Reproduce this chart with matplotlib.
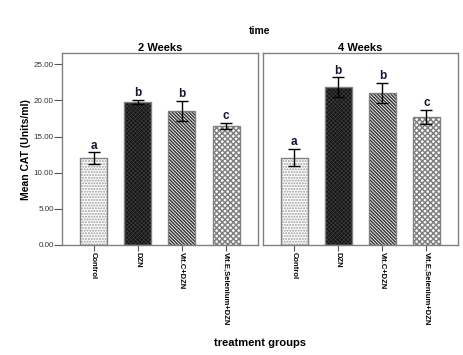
import matplotlib
matplotlib.use("Agg")
import matplotlib.pyplot as plt

plt.rcParams["font.family"] = ["Liberation Sans", "DejaVu Sans"]

groups = ["Control", "DZN", "Vit.C+DZN", "Vit.E,Selenium+DZN"]
panel_titles = ["2 Weeks", "4 Weeks"]
mean_2w = [12.0, 19.8, 18.5, 16.45]
err_2w = [0.8, 0.3, 1.4, 0.45]
mean_4w = [12.1, 21.85, 21.05, 17.7]
err_4w = [1.2, 1.35, 1.4, 0.97]
letters_2w = ["a", "b", "b", "c"]
letters_4w = ["a", "b", "b", "c"]
y_ticks = [0, 5, 10, 15, 20, 25]

# fill, hatch, hatch colour, hatch linewidth for each group
styles = [
    ("white", "......", "#9a9a9a", 1.0),
    ("#151515", "xxxxxxxx", "#3c3c3c", 0.5),
    ("white", "\\" * 10, "#3a3a3a", 1.1),
    ("white", "xxxxxx", "#808080", 1.1),
]

EDGE = "#808080"

fig = plt.figure(figsize=(4.63, 3.55), dpi=100)
ax_l = fig.add_axes([0.1339, 0.3099, 0.4227, 0.5394])
ax_r = fig.add_axes([0.5670, 0.3099, 0.4222, 0.5394])

x = list(range(len(groups)))
width = 0.61

for ax, means, errs, letters, title in (
    (ax_l, mean_2w, err_2w, letters_2w, panel_titles[0]),
    (ax_r, mean_4w, err_4w, letters_4w, panel_titles[1]),
):
    for i, (m, (fc, hatch, hc, hlw)) in enumerate(zip(means, styles)):
        with plt.rc_context({"hatch.linewidth": hlw}):
            ax.bar(x[i], m, width=width, color=fc, edgecolor=hc, hatch=hatch,
                   linewidth=0, zorder=2)
        ax.bar(x[i], m, width=width, fill=False, edgecolor=EDGE, linewidth=1.0, zorder=3)
    ax.errorbar(x, means, yerr=errs, fmt="none", ecolor="black", elinewidth=1.0,
                capsize=4.5, capthick=1.0, zorder=4)
    for xi, m, e, lab in zip(x, means, errs, letters):
        ax.annotate(lab, (xi, m + e), xytext=(0, 0.5), textcoords="offset points",
                    ha="center", va="bottom", fontsize=8.5, fontweight="bold",
                    color="#14143a", zorder=5)
    ax.set_xlim(-0.716, 3.716)
    ax.set_ylim(0, 26.5)
    ax.set_xticks(x)
    ax.set_xticklabels(groups, rotation=270, fontsize=5.5, fontweight="bold",
                       ha="center", va="top")
    ax.tick_params(axis="x", length=4, width=0.8, color="#555555", pad=1)
    for sp in ax.spines.values():
        sp.set_color(EDGE)
        sp.set_linewidth(1.0)
    ax.set_title(title, fontsize=8, fontweight="bold", pad=1.5)

ax_l.set_yticks(y_ticks)
ax_l.set_yticklabels([f"{v:.2f}" for v in y_ticks], fontsize=5.8, color="#333333")
ax_l.tick_params(axis="y", length=5.5, width=0.8, color="#555555", pad=0.5)
ax_l.set_ylabel("Mean CAT (Units/ml)", fontsize=7.5, fontweight="bold", labelpad=2)
ax_r.set_yticks([])

fig.text(0.5616, 0.913, "time", ha="center", va="center", fontsize=7.5, fontweight="bold")
fig.text(0.5616, 0.034, "treatment groups", ha="center", va="center", fontsize=8,
         fontweight="bold")

fig.savefig("out.png", dpi=100)
